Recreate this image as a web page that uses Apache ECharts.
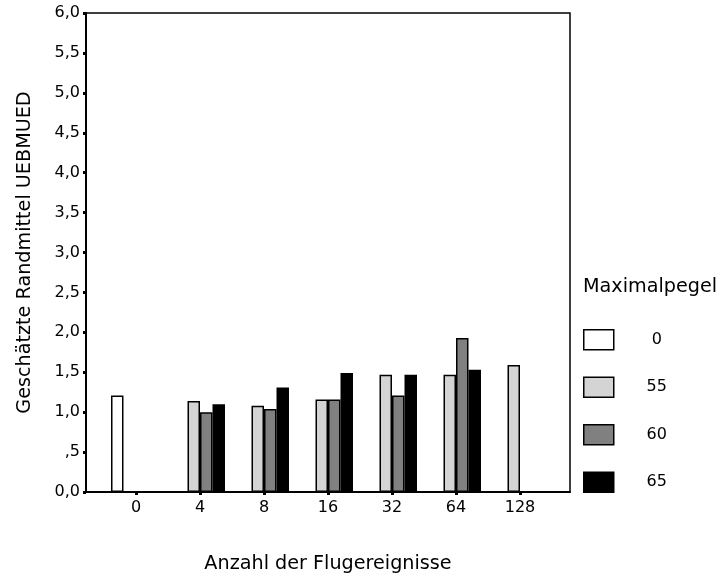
<!DOCTYPE html>
<html><head><meta charset="utf-8">
<script src="https://cdn.jsdelivr.net/npm/echarts@6/dist/echarts.min.js"></script>
<style>html,body{margin:0;padding:0;background:#fff}#c{width:724px;height:578px}</style>
</head><body><div id="c"></div><script>
const categories = ['0','4','8','16','32','64','128'];
const seriesNames = ['0','55','60','65'];
const s0  = [1.21, null, null, null, null, null, null];
const s55 = [null, 1.14, 1.08, 1.16, 1.47, 1.47, 1.59];
const s60 = [null, 1.00, 1.04, 1.16, 1.21, 1.93, null];
const s65 = [null, 1.10, 1.31, 1.49, 1.47, 1.53, null];
const yTickLabels = ['0,0', ',5', '1,0', '1,5', '2,0', '2,5', '3,0', '3,5', '4,0', '4,5', '5,0', '5,5', '6,0'];
const seriesColors = ['#ffffff', '#d4d4d4', '#808080', '#000000'];

const FONT = 'DejaVu Sans, sans-serif';
const chart = echarts.init(document.getElementById('c'), null, {renderer: 'canvas'});
const data = [s0, s55, s60, s65];
chart.setOption({
  animation: false,
  backgroundColor: '#fff',
  textStyle: {fontFamily: FONT, color: '#000'},
  title: {
    text: 'Maximalpegel', left: 578, top: 273,
    textStyle: {fontSize: 19.2, fontWeight: 'normal', color: '#000', fontFamily: FONT}
  },
  legend: {
    data: seriesNames, orient: 'vertical', left: 578, top: 324,
    itemWidth: 30, itemHeight: 20, itemGap: 26, selectedMode: false,
    icon: 'rect',
    itemStyle: {borderColor: '#000', borderWidth: 1.5},
    formatter: name => '{s|}{a|' + name + '}',
    textStyle: {
      color: '#000', fontFamily: FONT, fontSize: 16,
      rich: {s: {width: 27}, a: {width: 22, align: 'center', fontSize: 16, fontFamily: FONT, color: '#000'}}
    }
  },
  grid: [
    {left: 86, right: 154, top: 13, bottom: 86, show: true, borderColor: '#000', borderWidth: 1.5,
     backgroundColor: 'transparent', containLabel: false, outerBoundsMode: 'none'},
    {left: 104, right: 172, top: 13, bottom: 86, containLabel: false, outerBoundsMode: 'none'}
  ],
  xAxis: [
    {type: 'value', gridIndex: 0, min: 0, max: 1,
     axisLabel: {show: false}, axisTick: {show: false}, splitLine: {show: false},
     axisLine: {show: true, lineStyle: {color: '#000', width: 2}},
     name: 'Anzahl der Flugereignisse', nameLocation: 'middle', nameGap: 63,
     nameTextStyle: {fontSize: 19.2, color: '#000', fontFamily: FONT}},
    {type: 'category', gridIndex: 1, data: categories,
     axisLine: {show: false},
     axisTick: {show: true, alignWithLabel: true, length: 3, lineStyle: {width: 3, color: '#000'}},
     axisLabel: {fontSize: 16, color: '#000', margin: 8, fontFamily: FONT}}
  ],
  yAxis: [
    {type: 'value', gridIndex: 0, min: 0, max: 6, interval: 0.5,
     axisLine: {show: true, lineStyle: {color: '#000', width: 2}},
     axisTick: {show: true, length: 3, lineStyle: {width: 3, color: '#000'}},
     splitLine: {show: false},
     axisLabel: {fontSize: 16, color: '#000', margin: 6, fontFamily: FONT,
       formatter: v => yTickLabels[Math.round(v / 0.5)]},
     name: 'Geschätzte Randmittel UEBMUED', nameLocation: 'middle', nameGap: 51,
     nameTextStyle: {fontSize: 19.2, color: '#000', fontFamily: FONT}},
    {type: 'value', gridIndex: 1, min: 0, max: 6, show: false}
  ],
  series: seriesNames.map((n, i) => ({
    name: n, type: 'bar', xAxisIndex: 1, yAxisIndex: 1,
    data: data[i], barWidth: 12.5, barGap: '0%',
    itemStyle: {color: seriesColors[i], borderColor: '#000', borderWidth: 1.5}
  }))
});
</script></body></html>
